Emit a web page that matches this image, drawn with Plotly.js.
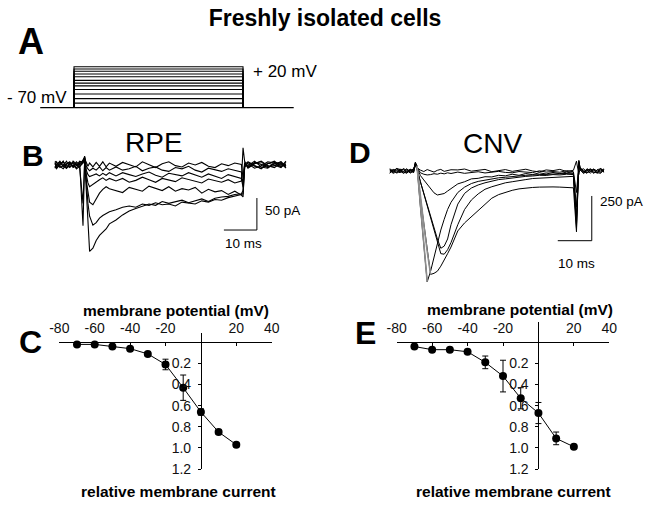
<!DOCTYPE html>
<html><head><meta charset="utf-8">
<script src="https://cdn.plot.ly/plotly-3.0.1.min.js"></script>
<style>html,body{margin:0;padding:0;background:#fff}#chart{width:650px;height:512px}</style>
</head><body><div id="chart"></div>
<script>
// ---------- Panel A: voltage protocol ----------
const protoTime = [-10, 0, 50, 65];          // ms: start, step on, step off, end
const holdingMV = -70;
const stepLevelsMV = [-60, -50, -40, -30, -22, -16, -10, -2, 4, 10, 15, 20];

// ---------- Panel B: RPE current traces (ms, pA) ----------
const tB = [-8.5,-8,-7,-6,-5,-4,-3,-2,-1, 0,0.5,1,1.5,2, 3,4,5,6,7,8,
  10,12,14,16,18,20,22,24,26,28,30,32,34,36,38,40,42,44,46,48, 48.5,49, 50,52,54,56,58,60,61.5];
const rpe1 = [2,-3,4,1,-4,3,-2,5,0, 8,12,-40,-95,-135, -130,-118,-110,-105,-100,-92,
  -86,-78,-72,-68,-64,-61,-63,-57,-60,-58,-55,-59,-56,-53,-57,-52,-50,-49,-46,-45, -40,2, -3,4,1,-4,2,5,-2];
const rpe2 = [-4,1,5,-2,-5,2,4,-1,3, -95,8,-30,-60,-80, -94,-90,-83,-79,-76,-73,
  -70,-66,-64,-66,-61,-63,-59,-62,-61,-64,-58,-60,-61,-56,-58,-54,-55,-51,-49,-46, -45,-3, 4,-2,-5,3,0,-4,4];
const rpe3 = [6,3,-2,-6,1,4,-3,2,-5, -60,5,-25,-45,-58, -62,-52,-44,-38,-34,-37,
  -40,-43,-35,-38,-41,-33,-36,-40,-34,-41,-37,-39,-35,-44,-38,-42,-40,-46,-41,-47, -50,4, -5,2,6,-1,-4,3,-2];
const rpe4 = [-2,-6,2,5,-1,-4,6,1,-3, 6,10,-15,-28,-34, -30,-26,-23,-20,-24,-21,
  -25,-21,-27,-24,-19,-23,-27,-21,-24,-26,-20,-23,-26,-28,-22,-24,-27,-23,-28,-25, 27,5, 2,-5,-1,5,3,-3,6];
const rpe5 = [1,5,-4,-1,6,-3,0,-5,4, 5,12,-8,-15,-18, -16,-14,-17,-13,-16,-12,
  -17,-12,-15,-18,-14,-11,-16,-19,-13,-15,-17,-12,-16,-19,-14,-17,-21,-15,-18,-21, -35,3, -1,6,-3,-5,4,1,-4];
const rpe6 = [-5,0,6,-3,2,5,-4,-1,6, 4,14,-2,-6,-9, -5,-8,-3,-9,-4,-8,
  -3,-8,-6,-2,-9,-5,-3,-8,-10,-4,-6,-2,-8,-11,-5,-7,-10,-6,-9,-11, -30,-4, 5,-1,-6,2,6,-2,1];
const rpe7 = [4,-4,-1,6,-5,1,3,-6,-2, 3,10,4,-2,3, -3,4,-2,5,-3,3,
  -2,4,1,-3,5,0,-4,2,5,-1,-3,3,0,4,-2,-4,2,-1,3,1, -20,4, -4,3,5,-3,-1,5,-5];
const scaleBarB = {cornerMs: 52.7, cornerPA: -101.6, ms: 10, pA: 50};

// ---------- Panel D: CNV current traces (ms, pA) ----------
const tD = [-8,-7,-6,-5,-4,-3,-2,-1, -0.5,0, 1,2,3,4,5,6,7,8,9,10,
  12,14,16,18,20,22,24,26,28,30,32,34,36,38,40,42,44,46, 46.9,47.6, 48,49,50,51,52,53,54,55];
const cnv1 = [9,-6,14,3,-12,-4,10,-9, 35,20, -25,-50,-75,-100,-122,-134,-132,-126,-112,-100,
  -72,-60,-44,-41,-32,-33,-24,-27,-18,-24,-14,-20,-10,-17,-8,-15,-6,-13, -200,20, 15,-6,10,3,-12,7,-4,13];
const cnv2 = [-10,4,12,-7,-3,13,-12,6, 40,15, -60,-125,-190,-250,-315,-380,-432,-420,-380,-300,
  -185,-125,-95,-78,-66,-56,-48,-44,-38,-36,-30,-28,-24,-25,-20,-22,-18,-20, -260,40, 4,13,-9,-3,12,-13,6,-7];
const cnv3 = [3,-13,-4,10,7,-9,2,12, 30,10, -60,-125,-190,-255,-320,-390,-462,-465,-440,-400,
  -300,-215,-162,-128,-102,-88,-76,-66,-60,-52,-48,-42,-40,-36,-33,-32,-28,-30, -300,55, 16,-3,-13,9,4,-10,13,2];
const cnv4 = [-4,9,-12,-2,13,4,-10,-3, 45,25, -150,-300,-450,-578,-572,-560,-532,-500,-462,-425,
  -335,-290,-255,-222,-185,-152,-132,-118,-108,-100,-95,-92,-90,-88,-89,-90,-92,-94, -340,60, 7,-14,3,12,-6,-10,14,-3];
const cnv5 = [12,2,-9,6,-13,9,3,-7, 50,30, -200,-410,-620,-560,-480,-400,-330,-270,-215,-175,
  -120,-90,-70,-58,-50,-44,-38,-35,-30,-28,-24,-22,-20,-18,-17,-15,-14,-12, -320,50, 13,-7,6,-13,10,2,-9,7];
const cnv6 = [-13,7,3,-10,12,-6,-2,13, 38,20, -10,-18,-22,-20,-15,-18,-12,-16,-10,-14,
  -6,-13,-9,-4,-11,-7,-2,-8,-10,-3,-5,-9,1,-6,-3,-7,2,-4, -120,30, 6,-12,13,-2,9,-9,-13,10];
const cnv7 = [6,-10,14,9,-4,-13,10,0, 42,18, 5,-3,8,2,-6,4,9,-2,3,7,
  6,11,-1,4,9,-4,3,8,-2,5,10,0,-5,6,2,9,-3,4, 55,-20, 18,3,-9,12,-13,7,13,-6];
const scaleBarD = {cornerMs: 51.4, cornerPA: -389.6, ms: 10, pA: 250};

// ---------- Panels C and E: I-V relations ----------
const potentialsMV = [-70, -60, -50, -40, -30, -20, -10, 0, 10, 20];
const relCurrentRPE = [0.02, 0.02, 0.04, 0.06, 0.11, 0.21, 0.43, 0.66, 0.85, 0.97];
const errRPE        = [0.01, 0.01, 0.01, 0.01, 0.02, 0.05, 0.12, 0.03, 0.02, 0.02];
const relCurrentCNV = [0.04, 0.07, 0.07, 0.09, 0.19, 0.32, 0.53, 0.67, 0.91, 0.99];
const errCNV        = [0.01, 0.01, 0.01, 0.01, 0.06, 0.15, 0.10, 0.10, 0.06, 0.01];
const ivTickVals = [-80, -60, -40, -20, 20, 40];
const ivTickText = ['-80', '-60', '-40', '-20', '20', '40'];
const relTickVals = [0.2, 0.4, 0.6, 0.8, 1.0, 1.2];
const relTickText = ['0.2', '0.4', '0.6', '0.8', '1.0', '1.2'];

// ---------- layout helpers (pixel placement on a 650x512 page) ----------
const W = 650, H = 512;
const dx = (a, b) => [a / W, b / W];
const dy = (top, bottom) => [1 - bottom / H, 1 - top / H];
const FONT = 'Arial, "Liberation Sans", sans-serif';
const K = '#000';

const traces = [];
const line = (w, c) => ({color: c || K, width: w});

// A
traces.push({x: [protoTime[0], protoTime[3]], y: [holdingMV, holdingMV], xaxis: 'x', yaxis: 'y',
  mode: 'lines', line: line(1.3), hoverinfo: 'skip'});
stepLevelsMV.forEach(v => traces.push({
  x: [protoTime[1], protoTime[1], protoTime[2], protoTime[2]], y: [holdingMV, v, v, holdingMV],
  xaxis: 'x', yaxis: 'y', mode: 'lines', line: line(1.1), hoverinfo: 'skip'}));

// B
[rpe7, rpe6, rpe5, rpe4, rpe3, rpe2, rpe1].forEach(arr => traces.push({
  x: tB, y: arr, xaxis: 'x2', yaxis: 'y2', mode: 'lines', line: line(1.1), hoverinfo: 'skip'}));
traces.push({x: [scaleBarB.cornerMs - scaleBarB.ms, scaleBarB.cornerMs, scaleBarB.cornerMs],
  y: [scaleBarB.cornerPA, scaleBarB.cornerPA, scaleBarB.cornerPA + scaleBarB.pA],
  xaxis: 'x2', yaxis: 'y2', mode: 'lines', line: line(1), hoverinfo: 'skip'});

// D
[cnv7, cnv6, cnv1, cnv2, cnv3, cnv4, cnv5].forEach(arr => traces.push({
  x: tD, y: arr, xaxis: 'x3', yaxis: 'y3', mode: 'lines', line: line(1), hoverinfo: 'skip'}));
// grey sampled onset of the two fastest traces
[[cnv4, 13], [cnv5, 12]].forEach(([arr, pk]) => traces.push({
  x: tD.slice(9, pk + 1), y: arr.slice(9, pk + 1), xaxis: 'x3', yaxis: 'y3', mode: 'lines',
  line: line(1.6, '#8c8c8c'), hoverinfo: 'skip'}));
traces.push({x: [scaleBarD.cornerMs - scaleBarD.ms, scaleBarD.cornerMs, scaleBarD.cornerMs],
  y: [scaleBarD.cornerPA, scaleBarD.cornerPA, scaleBarD.cornerPA + scaleBarD.pA],
  xaxis: 'x3', yaxis: 'y3', mode: 'lines', line: line(1), hoverinfo: 'skip'});

// C and E
[[relCurrentRPE, errRPE, 'x4', 'y4'], [relCurrentCNV, errCNV, 'x5', 'y5']].forEach(([y, e, xa, ya]) =>
  traces.push({x: potentialsMV, y: y, xaxis: xa, yaxis: ya, mode: 'lines+markers',
    line: line(1), marker: {size: 8, color: K},
    error_y: {type: 'data', array: e, visible: true, color: K, thickness: 1, width: 3},
    hoverinfo: 'skip'}));

const hidden = (dom, rng) => ({domain: dom, range: rng, visible: false, fixedrange: true});
const ivX = (dom, pos) => ({domain: dom, range: [-80, 40], anchor: 'free', position: pos, side: 'top',
  showline: true, linecolor: K, linewidth: 1, showgrid: false, zeroline: false,
  tickmode: 'array', tickvals: ivTickVals, ticktext: ivTickText, ticks: 'inside', ticklen: 3, tickcolor: K,
  ticklabelstandoff: 4,
  tickfont: {family: FONT, size: 14, color: '#111'}, fixedrange: true});
const ivY = (dom, rng, pos) => ({domain: dom, range: rng, anchor: 'free', position: pos,
  showline: true, linecolor: K, linewidth: 1, showgrid: false, zeroline: false,
  tickmode: 'array', tickvals: relTickVals, ticktext: relTickText, ticks: 'outside', ticklen: 3, tickcolor: K,
  ticklabelstandoff: 4,
  tickfont: {family: FONT, size: 14, color: '#111'}, fixedrange: true});

const ann = (text, px, py, size, bold) => ({text: text, x: px / W, y: 1 - py / H, xref: 'paper', yref: 'paper',
  xanchor: 'center', yanchor: 'middle', showarrow: false,
  font: {family: FONT, size: size, color: K, weight: bold ? 'bold' : 'normal'}});

const layout = {
  width: W, height: H, margin: {l: 0, r: 0, t: 0, b: 0},
  paper_bgcolor: '#fff', plot_bgcolor: 'rgba(0,0,0,0)', showlegend: false, hovermode: false,
  title: {text: 'Freshly isolated cells', x: 0.5, xanchor: 'center', y: 1 - 18 / H, yanchor: 'middle',
    font: {family: FONT, size: 23, color: K, weight: 'bold'}},
  xaxis: hidden(dx(30, 300), [-13.02, 66.86]),
  yaxis: hidden(dy(60, 112), [-79.4, 34.7]),
  xaxis2: Object.assign(hidden(dx(50, 290), [-10, 62.73]), {anchor: 'y2'}),
  yaxis2: Object.assign(hidden(dy(140, 270), [-164.06, 39.06]), {anchor: 'x2'}),
  xaxis3: Object.assign(hidden(dx(385, 610), [-9.41, 56.76]), {anchor: 'y3'}),
  yaxis3: Object.assign(hidden(dy(140, 290), [-665.2, 173.3]), {anchor: 'x3'}),
  xaxis4: ivX(dx(59.3, 271.7), 1 - 342.3 / H),
  yaxis4: ivY(dy(333, 469), [1.2, -0.088], 200.9 / W),
  xaxis5: ivX(dx(396.7, 609.3), 1 - 342.3 / H),
  yaxis5: ivY(dy(321.7, 469), [1.2, -0.195], 538.4 / W),
  annotations: [
    ann('A', 31.5, 41.5, 36, true),
    ann('- 70 mV', 36.5, 97, 17, false),
    ann('+ 20 mV', 285, 71, 17, false),
    ann('B', 32.5, 155, 30, true),
    ann('RPE', 154, 142, 28, false),
    ann('D', 360, 152, 30, true),
    ann('CNV', 492.5, 143, 28, false),
    ann('50 pA', 282.5, 210, 13.5, false),
    ann('10 ms', 243.5, 243, 13.5, false),
    ann('250 pA', 621, 201, 13.5, false),
    ann('10 ms', 576.5, 263, 13.5, false),
    ann('C', 30, 341.7, 32, true),
    ann('E', 365, 333.3, 32, true),
    ann('membrane potential (mV)', 176, 310, 15.5, true),
    ann('membrane potential (mV)', 520, 309, 15.5, true),
    ann('relative membrane current', 178.8, 491, 15.5, true),
    ann('relative membrane current', 513.3, 491, 15.5, true)
  ]
};

Plotly.newPlot('chart', traces, layout, {staticPlot: true, displayModeBar: false});
</script>
</body></html>
